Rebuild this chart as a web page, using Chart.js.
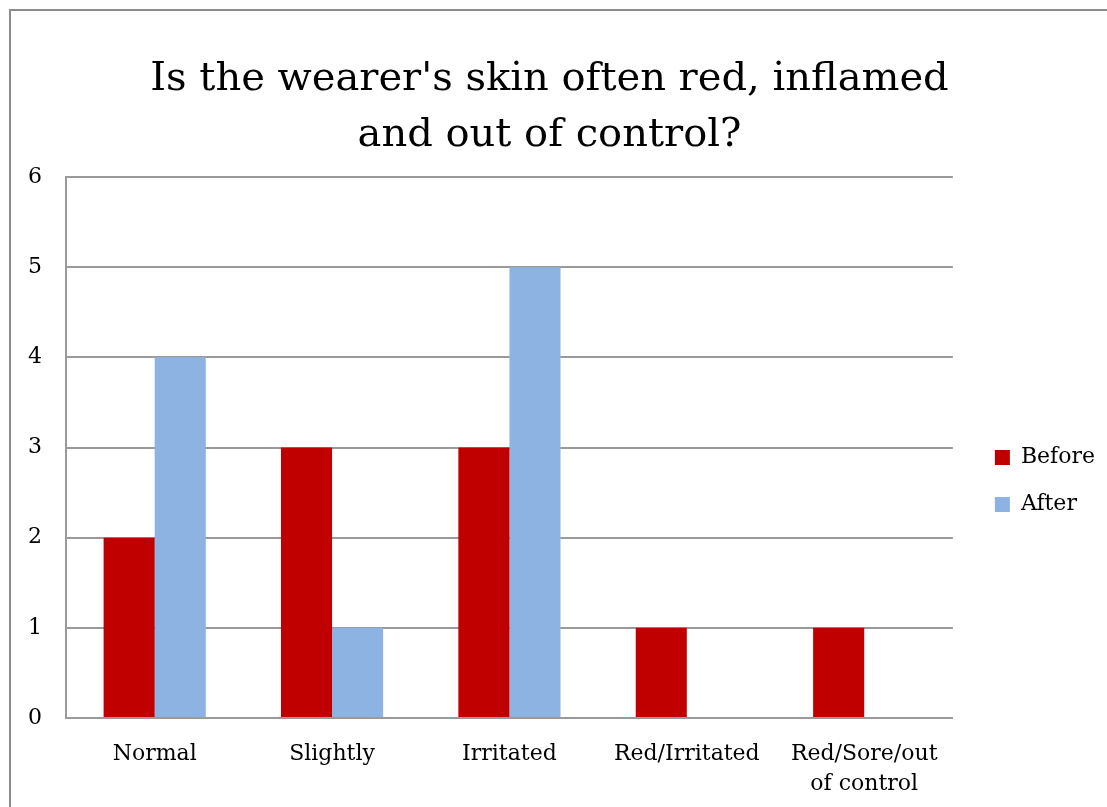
<!DOCTYPE html>
<html>
<head>
<meta charset="utf-8">
<script src="https://cdn.jsdelivr.net/npm/chart.js@4.4.0/dist/chart.umd.min.js"></script>
<style>
  body { margin: 0; background: #fff; overflow: hidden; }
  #frame { position: absolute; left: 9px; top: 9px; width: 1300px; height: 1000px; border: 2px solid #8c8c8c; }
  #box { position: absolute; left: -6px; top: 11px; width: 1111px; height: 940px; }
</style>
</head>
<body>
<div id="frame"></div>
<div id="box"><canvas id="myChart"></canvas></div>
<script>
// chart data
var categories = ['Normal', 'Slightly', 'Irritated', 'Red/Irritated', ['Red/Sore/out', 'of control']];
var beforeValues = [2, 3, 3, 1, 1];
var afterValues = [4, 1, 5, 0, 0];
var yTicks = [0, 1, 2, 3, 4, 5, 6];

var serif = "'DejaVu Serif', 'Liberation Serif', serif";
var gridGray = '#9a9a9a';

const ctx = document.getElementById('myChart').getContext('2d');
var myChart = new Chart(ctx, {
  type: 'bar',
  data: {
    labels: categories,
    datasets: [{
      label: 'Before',
      data: beforeValues,
      backgroundColor: '#C00000',
      borderWidth: 0
    }, {
      label: 'After',
      data: afterValues,
      backgroundColor: '#8DB3E2',
      borderWidth: 0
    }]
  },
  options: {
    responsive: true,
    maintainAspectRatio: false,
    animation: false,
    layout: { padding: 0 },
    datasets: {
      bar: { categoryPercentage: 0.576, barPercentage: 1 }
    },
    plugins: {
      title: {
        display: true,
        text: ["Is the wearer's skin often red, inflamed", 'and out of control?'],
        color: '#000',
        font: { family: serif, size: 40, weight: 'normal', lineHeight: 1.4 },
        padding: { top: 41, bottom: 13 }
      },
      legend: {
        position: 'right',
        labels: {
          color: '#000',
          font: { family: serif, size: 22 },
          boxWidth: 15,
          boxHeight: 15,
          padding: 25
        }
      },
      tooltip: { enabled: false }
    },
    scales: {
      x: {
        grid: { display: false, drawTicks: false },
        border: { display: true, color: gridGray, width: 2 },
        ticks: {
          color: '#000',
          font: { family: serif, size: 22, lineHeight: 1.36 },
          padding: 21,
          maxRotation: 0,
          autoSkip: false
        },
        afterFit: function (scale) { scale.height = 233; }
      },
      y: {
        min: 0,
        max: 6,
        afterBuildTicks: function (scale) {
          scale.ticks = yTicks.map(v => ({ value: v }));
        },
        grid: { color: gridGray, lineWidth: 2, drawTicks: false },
        border: { display: true, color: gridGray, width: 2 },
        ticks: {
          color: '#000',
          font: { family: serif, size: 22 },
          padding: 24
        },
        afterFit: function (scale) { scale.width = 72; }
      },
      gap: {
        position: 'right',
        display: true,
        grid: { display: false },
        border: { display: false },
        ticks: { display: false },
        afterFit: function (scale) { scale.width = 17; }
      }
    }
  }
});
</script>
</body>
</html>
